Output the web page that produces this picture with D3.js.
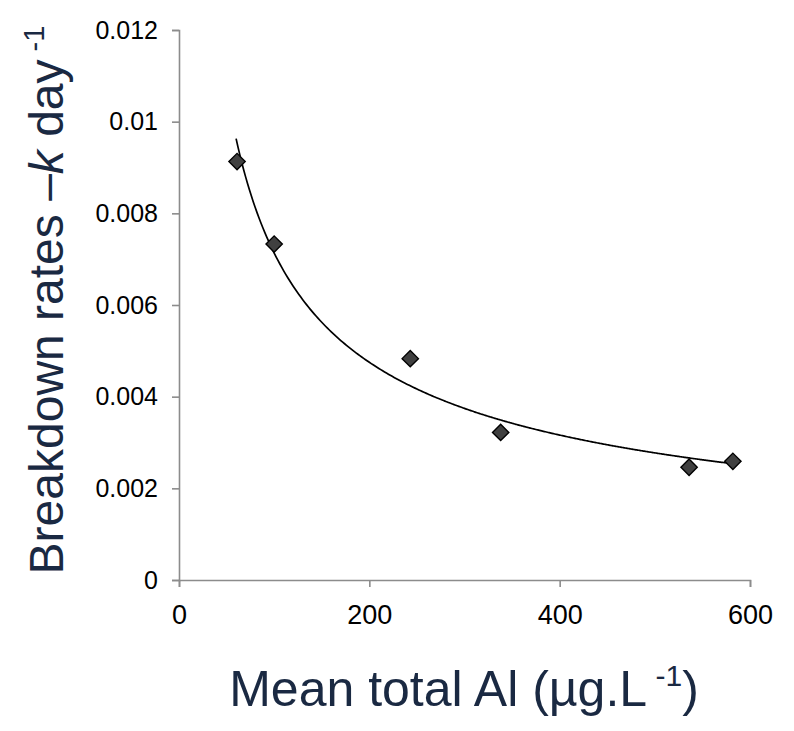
<!DOCTYPE html>
<html><head><meta charset="utf-8">
<script src="https://cdn.jsdelivr.net/npm/d3@7"></script>
<style>body{margin:0;background:#fff}text{font-family:"Liberation Sans",Arial,sans-serif}</style>
</head><body><svg id="c" width="794" height="731"></svg>
<script>
const alValues = [61, 100, 243, 338, 536, 582];
const kValues = [0.00913, 0.00733, 0.00483, 0.00322, 0.00246, 0.00259];
const xTicks = [0, 200, 400, 600];
const yTicks = [0, 0.002, 0.004, 0.006, 0.008, 0.01, 0.012];
const yTickLabels = ["0", "0.002", "0.004", "0.006", "0.008", "0.01", "0.012"];
// power trendline k = a * Al^b
const fitA = 0.1065, fitB = -0.587, fitRange = [60, 582];

const svg = d3.select("#c");
const x = d3.scaleLinear().domain([0, 600]).range([179, 750]);
const y = d3.scaleLinear().domain([0, 0.012]).range([580, 30]);
const axisColor = "#8c8c8c";

const gx = svg.append("g").attr("transform", `translate(0,${y(0)})`)
  .call(d3.axisBottom(x).tickValues(xTicks).tickSize(7).tickPadding(18).tickFormat(d3.format("d")));
const gy = svg.append("g").attr("transform", `translate(${x(0)},0)`)
  .call(d3.axisLeft(y).tickValues(yTicks).tickSize(7).tickPadding(14).tickFormat((d,i)=>yTickLabels[i]));
[gx, gy].forEach(g => {
  g.select(".domain").attr("stroke", axisColor).attr("stroke-width", 1.6);
  g.selectAll(".tick line").attr("stroke", axisColor).attr("stroke-width", 1.6);
  g.selectAll(".tick text").attr("fill", "#000").style("font-size", "27px");
});
gy.selectAll(".tick text").style("font-size", "25px");

// trendline
const curvePts = d3.range(fitRange[0], fitRange[1] + 0.5, 2).map(v => [v, fitA * Math.pow(v, fitB)]);
svg.append("path").datum(curvePts)
  .attr("d", d3.line().x(d => x(d[0])).y(d => y(d[1])).curve(d3.curveMonotoneX))
  .attr("fill", "none").attr("stroke", "#000").attr("stroke-width", 1.7);

// points
const pts = alValues.map((v, i) => ({x: v, y: kValues[i]}));
svg.append("g").selectAll("path").data(pts).join("path")
  .attr("transform", d => `translate(${x(d.x)},${y(d.y)})`)
  .attr("d", d3.symbol(d3.symbolDiamond2, 170)())
  .attr("fill", "#404040").attr("stroke", "#000").attr("stroke-width", 1.4);

// axis titles
const titleColor = "#1a2942";
const xt = svg.append("text").attr("x", 464).attr("y", 706).attr("text-anchor", "middle")
  .attr("fill", titleColor).style("font-size", "50px");
xt.append("tspan").text("Mean total Al (µg.L");
xt.append("tspan").attr("dy", -20).style("font-size", "30px").text(" -1");
xt.append("tspan").attr("dy", 20).text(")");

const yt = svg.append("text").attr("transform", "translate(63,300) rotate(-90)").attr("text-anchor", "middle")
  .attr("fill", titleColor).style("font-size", "48px");
yt.append("tspan").text("Breakdown rates \u2013");
yt.append("tspan").style("font-style", "italic").text("k");
yt.append("tspan").text(" day");
yt.append("tspan").attr("dy", -19).style("font-size", "29px").text(" -1");
</script></body></html>
